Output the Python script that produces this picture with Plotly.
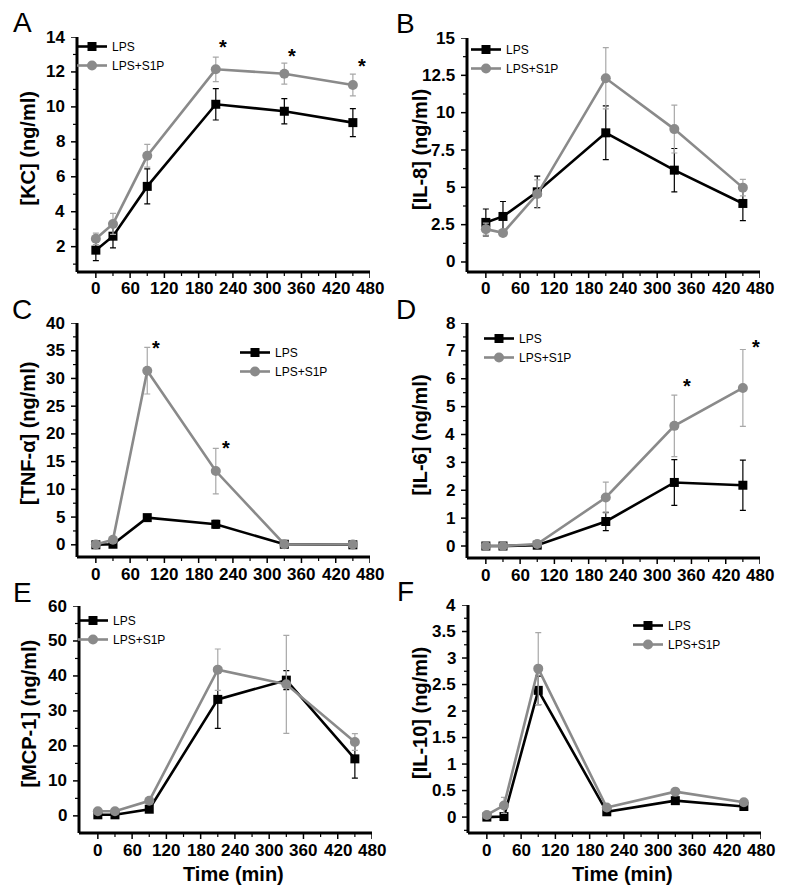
import plotly.graph_objects as go

# ---------------- data ----------------
time_min = [0, 30, 90, 210, 330, 450]
x_ticks = [0, 60, 120, 180, 240, 300, 360, 420, 480]
x_minor_ticks = [30, 90, 150, 210, 270, 330, 390, 450]

kc_lps = [1.8, 2.6, 5.45, 10.15, 9.75, 9.1]
kc_lps_err = [0.6, 0.67, 1.0, 0.9, 0.72, 0.8]
kc_s1p = [2.45, 3.3, 7.2, 12.15, 11.9, 11.25]
kc_s1p_err = [0.33, 0.6, 0.65, 0.7, 0.6, 0.62]

il8_lps = [2.65, 3.05, 4.7, 8.65, 6.15, 3.92]
il8_lps_err = [0.9, 1.0, 1.05, 1.8, 1.45, 1.15]
il8_s1p = [2.2, 1.95, 4.55, 12.3, 8.9, 4.98]
il8_s1p_err = [0.4, 0.2, 0.95, 2.05, 1.6, 0.55]

tnf_lps = [0.0, 0.1, 4.9, 3.7, 0.1, 0.0]
tnf_lps_err = [0.05, 0.1, 0.3, 0.7, 0.05, 0.05]
tnf_s1p = [0.05, 0.9, 31.4, 13.3, 0.1, 0.05]
tnf_s1p_err = [0.05, 0.5, 4.2, 4.1, 0.1, 0.05]

il6_lps = [0.0, 0.0, 0.03, 0.88, 2.28, 2.18]
il6_lps_err = [0.02, 0.02, 0.03, 0.33, 0.82, 0.9]
il6_s1p = [0.0, 0.0, 0.07, 1.74, 4.31, 5.67]
il6_s1p_err = [0.02, 0.02, 0.05, 0.55, 1.1, 1.38]

mcp_lps = [0.3, 0.3, 1.9, 33.3, 38.8, 16.3]
mcp_lps_err = [0.5, 0.5, 0.5, 8.3, 2.7, 5.5]
mcp_s1p = [1.3, 1.3, 4.3, 41.8, 37.6, 21.1]
mcp_s1p_err = [0.5, 0.5, 0.7, 5.9, 14.0, 2.4]

il10_lps = [0.0, 0.01, 2.39, 0.1, 0.31, 0.2]
il10_lps_err = [0.01, 0.01, 0.27, 0.02, 0.03, 0.03]
il10_s1p = [0.04, 0.22, 2.8, 0.18, 0.48, 0.28]
il10_s1p_err = [0.02, 0.15, 0.68, 0.03, 0.04, 0.03]

kc_star_x = [222, 344, 466]
kc_star_y = [13.4, 12.9, 12.35]
tnf_star_x = [106, 227]
tnf_star_y = [35.5, 17.5]
il6_star_x = [352, 473]
il6_star_y = [5.75, 7.15]

series_names = ["LPS", "LPS+S1P"]

# ---------------- layout helpers ----------------
W, H = 790, 891
FONT = "Liberation Sans, Arial, sans-serif"
BLACK = "#000000"
GREY = "#8a8a8a"
GREY_ERR = "#a8a8a8"
TICK_FONT = dict(family=FONT, size=17, color="black")


def fmt(v):
    return f"<b>{v:g}</b>"


panels = [
    dict(letter="A", title="[KC] (ng/ml)", lps=kc_lps, lpse=kc_lps_err, s1p=kc_s1p, s1pe=kc_s1p_err,
         yrange=[0.55, 14], yticks=[2, 4, 6, 8, 10, 12, 14],
         px=(77, 370), py=(37, 272), leg=(72, 32), stars=(kc_star_x, kc_star_y)),
    dict(letter="B", title="[IL-8] (ng/ml)", lps=il8_lps, lpse=il8_lps_err, s1p=il8_s1p, s1pe=il8_s1p_err,
         yrange=[-0.67, 15], yticks=[0, 2.5, 5, 7.5, 10, 12.5, 15],
         px=(467, 760), py=(38, 272), leg=(466, 35), stars=None),
    dict(letter="C", title="[TNF-α] (ng/ml)", lps=tnf_lps, lpse=tnf_lps_err, s1p=tnf_s1p, s1pe=tnf_s1p_err,
         yrange=[-2.2, 40], yticks=[0, 5, 10, 15, 20, 25, 30, 35, 40],
         px=(77, 370), py=(323, 557), leg=(235, 338), stars=(tnf_star_x, tnf_star_y)),
    dict(letter="D", title="[IL-6] (ng/ml)", lps=il6_lps, lpse=il6_lps_err, s1p=il6_s1p, s1pe=il6_s1p_err,
         yrange=[-0.43, 8], yticks=[0, 1, 2, 3, 4, 5, 6, 7, 8],
         px=(467, 760), py=(323, 558), leg=(479, 324), stars=(il6_star_x, il6_star_y)),
    dict(letter="E", title="[MCP-1] (ng/ml)", lps=mcp_lps, lpse=mcp_lps_err, s1p=mcp_s1p, s1pe=mcp_s1p_err,
         yrange=[-4.9, 60], yticks=[0, 10, 20, 30, 40, 50, 60],
         px=(79, 372), py=(606, 833), leg=(73, 606), stars=None),
    dict(letter="F", title="[IL-10] (ng/ml)", lps=il10_lps, lpse=il10_lps_err, s1p=il10_s1p, s1pe=il10_s1p_err,
         yrange=[-0.3, 4], yticks=[0, 0.5, 1, 1.5, 2, 2.5, 3, 3.5, 4],
         px=(468, 761), py=(605, 833), leg=(628, 611), stars=None),
]

fig = go.Figure()
layout = dict(width=W, height=H, margin=dict(l=0, r=0, t=0, b=0),
              paper_bgcolor="white", plot_bgcolor="white",
              font=dict(family=FONT, color="black"), annotations=[], shapes=[])

for i, p in enumerate(panels):
    n = i + 1
    xa = "x" if n == 1 else f"x{n}"
    ya = "y" if n == 1 else f"y{n}"
    leg = "legend" if n == 1 else f"legend{n}"
    xkey = "xaxis" if n == 1 else f"xaxis{n}"
    ykey = "yaxis" if n == 1 else f"yaxis{n}"

    fig.add_trace(go.Scatter(
        x=time_min, y=p["lps"], name=series_names[0], mode="lines+markers",
        line=dict(color=BLACK, width=2.6),
        marker=dict(symbol="square", size=9, color=BLACK),
        error_y=dict(type="data", array=p["lpse"], color=BLACK, thickness=1.2, width=3),
        xaxis=xa, yaxis=ya, legend=leg))
    fig.add_trace(go.Scatter(
        x=time_min, y=p["s1p"], name=series_names[1], mode="lines+markers",
        line=dict(color=GREY, width=2.6),
        marker=dict(symbol="circle", size=10, color=GREY),
        error_y=dict(type="data", array=p["s1pe"], color=GREY_ERR, thickness=1.2, width=3),
        xaxis=xa, yaxis=ya, legend=leg))

    x0, x1 = p["px"]
    y0, y1 = p["py"]
    fx0, fx1 = x0 / W, x1 / W
    fy0, fy1 = 1 - y1 / H, 1 - y0 / H
    layout[xkey] = dict(
        domain=[fx0, fx1], anchor=ya, range=[-33, 480], automargin=False,
        showline=False, ticks="", showticklabels=False, showgrid=False, zeroline=False,
        fixedrange=True)
    layout[ykey] = dict(
        domain=[fy0, fy1], anchor=xa, range=p["yrange"], automargin=False,
        showline=False, ticks="", showticklabels=False, showgrid=False, zeroline=False,
        fixedrange=True)

    # axis lines along the panel's domain edges (paper reference, never clipped)
    line_style = dict(color="black", width=3)
    layout["shapes"].append(dict(type="line", xref="paper", yref="paper",
                                 x0=fx0, x1=fx1, y0=fy0, y1=fy0, line=line_style, layer="above"))
    layout["shapes"].append(dict(type="line", xref="paper", yref="paper",
                                 x0=fx0, x1=fx0, y0=fy0, y1=fy1, line=line_style, layer="above"))

    # x ticks (major + minor) and labels
    for tv in x_ticks:
        layout["shapes"].append(dict(type="line", xref=xa, yref="paper", x0=tv, x1=tv,
                                     y0=fy0, y1=fy0 - 6 / H, line=dict(color="black", width=1.5)))
        layout["annotations"].append(dict(
            text=fmt(tv), xref=xa, yref="paper", x=tv, y=fy0, yshift=-17,
            xanchor="center", yanchor="middle", showarrow=False, font=TICK_FONT))
    for tv in x_minor_ticks:
        layout["shapes"].append(dict(type="line", xref=xa, yref="paper", x0=tv, x1=tv,
                                     y0=fy0, y1=fy0 - 4 / H, line=dict(color="black", width=1.2)))

    # y ticks (major + minor) and labels
    yt = p["yticks"]
    step = yt[1] - yt[0]
    y_minor = [(a + b) / 2 for a, b in zip(yt[:-1], yt[1:])]
    if yt[0] - step / 2 >= p["yrange"][0]:
        y_minor.insert(0, yt[0] - step / 2)
    for tv in yt:
        layout["shapes"].append(dict(type="line", xref="paper", yref=ya, x0=fx0, x1=fx0 - 6 / W,
                                     y0=tv, y1=tv, line=dict(color="black", width=1.5)))
        layout["annotations"].append(dict(
            text=fmt(tv), xref="paper", yref=ya, x=fx0, y=tv, xshift=-10,
            xanchor="right", yanchor="middle", showarrow=False, font=TICK_FONT))
    for tv in y_minor:
        layout["shapes"].append(dict(type="line", xref="paper", yref=ya, x0=fx0, x1=fx0 - 4 / W,
                                     y0=tv, y1=tv, line=dict(color="black", width=1.2)))

    lx, ly = p["leg"]
    layout[leg] = dict(x=lx / W, y=1 - ly / H, xanchor="left", yanchor="top",
                       bgcolor="rgba(0,0,0,0)", font=dict(family=FONT, size=12, color="black"),
                       itemwidth=30, tracegroupgap=0)

    left_col = x0 < 200
    layout["annotations"].append(dict(
        text=p["letter"], xref="paper", yref="paper",
        x=(22 if left_col else 406) / W, y=1 - (y0 - 14) / H,
        xanchor="center", yanchor="middle", showarrow=False,
        font=dict(family=FONT, size=28, color="black")))
    layout["annotations"].append(dict(
        text="<b>" + p["title"] + "</b>", xref="paper", yref="paper",
        x=(28 if left_col else 420) / W, y=1 - ((y0 + y1) / 2 - 6) / H,
        xanchor="center", yanchor="middle", textangle=-90, showarrow=False,
        font=dict(family=FONT, size=20, color="black")))
    if p["stars"] is not None:
        for sx, sy in zip(*p["stars"]):
            layout["annotations"].append(dict(
                text="<b>*</b>", xref=xa, yref=ya, x=sx, y=sy, showarrow=False,
                xanchor="center", yanchor="middle",
                font=dict(family=FONT, size=20, color="black")))
    if n in (5, 6):
        layout["annotations"].append(dict(
            text="<b>Time (min)</b>", xref="paper", yref="paper",
            x=((x0 + x1) / 2 + 8) / W, y=1 - 874 / H,
            xanchor="center", yanchor="middle", showarrow=False,
            font=dict(family=FONT, size=20, color="black")))

fig.update_layout(**layout)
fig.write_html("out.html", config={"displayModeBar": False},
               post_script="document.body.style.margin='0';document.body.style.overflow='hidden';")
